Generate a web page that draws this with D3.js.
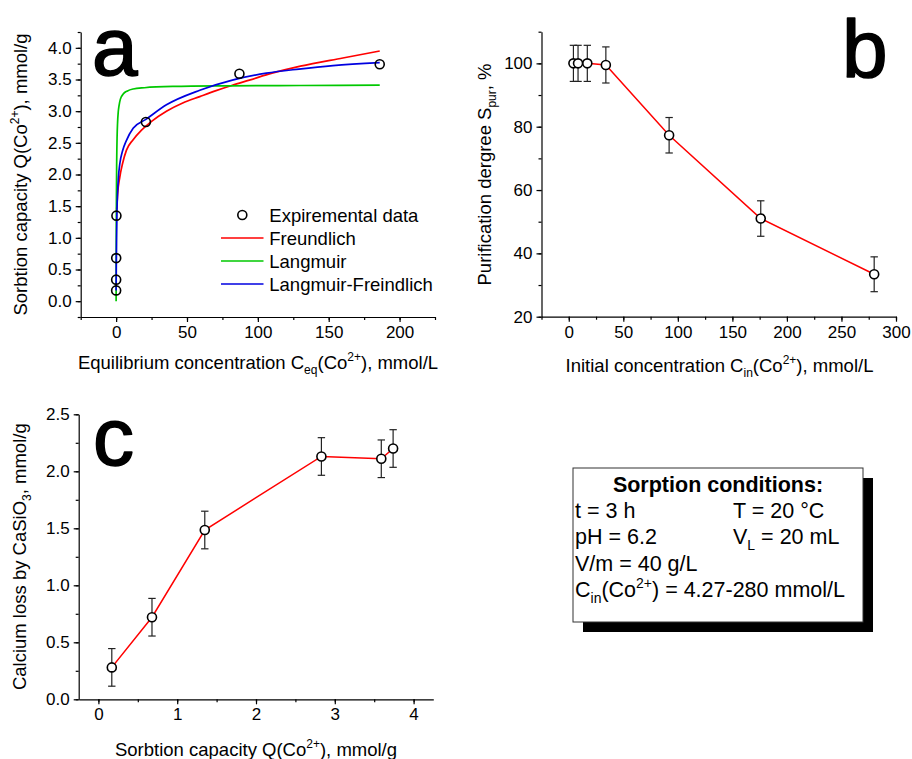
<!DOCTYPE html>
<html>
<head>
<meta charset="utf-8">
<script src="https://cdn.jsdelivr.net/npm/d3@7"></script>
<style>
  body { margin: 0; background: #fff; }
  svg text { font-family: "Liberation Sans", Arial, sans-serif; fill: #000; }
</style>
</head>
<body>
<svg id="fig" width="912" height="759"></svg>
<script>
// ---- panel a: isotherm ----
const expC = [0.01, 0.02, 0.05, 0.2, 21, 87, 186];
const expQ = [0.17, 0.34, 0.68, 1.35, 2.83, 3.59, 3.74];

const frC = [0.4, 1, 2.6, 4.5, 7.3, 12, 17.9, 25, 35.5, 47, 59, 70, 82, 94, 110, 130, 160, 186];
const frQ = [1.45, 1.68, 1.96, 2.17, 2.385, 2.55, 2.70, 2.84, 3.0, 3.13, 3.23, 3.32, 3.41, 3.49, 3.60, 3.71, 3.84, 3.95];

const lgC = [0, 0.05, 0.1, 0.2, 0.4, 0.7, 1, 1.5, 2, 3, 5, 8, 12, 20, 40, 80, 130, 186];
const lgQ = [0, 0.65, 1.09, 1.65, 2.21, 2.61, 2.81, 2.99, 3.08, 3.19, 3.27, 3.32, 3.35, 3.37, 3.39, 3.40, 3.405, 3.41];

const lfC = [0, 0.1, 0.3, 0.6, 1, 1.6, 2.6, 4.5, 7.3, 12, 21, 35.5, 59, 82, 106, 129, 153, 186];
const lfQ = [0.17, 0.55, 1.0, 1.44, 1.7, 1.95, 2.17, 2.37, 2.54, 2.73, 2.87, 3.10, 3.33, 3.49, 3.60, 3.665, 3.72, 3.765];

const legendLabels = ['Expiremental data', 'Freundlich', 'Langmuir', 'Langmuir-Freindlich'];
const curveColors = ['#ff0000', '#00c800', '#0000e0'];

// ---- panel b: purification degree ----
const bC = [4.27, 8.5, 17, 34, 92, 176, 280];
const bS = [100, 100, 100, 99.5, 77.3, 51, 33.4];
const bErr = [5.7, 5.7, 5.7, 5.7, 5.6, 5.6, 5.5];

// ---- panel c: calcium loss ----
const cQ = [0.17, 0.68, 1.35, 2.83, 3.59, 3.74];
const cLoss = [0.28, 0.72, 1.485, 2.13, 2.11, 2.20];
const cErr = [0.165, 0.165, 0.165, 0.165, 0.165, 0.165];

// ---- conditions box ----
const condRows = [
  [[['t = 3 h', '']], [['T = 20 °C', '']]],
  [[['pH = 6.2', '']], [['V', ''], ['L', 'sub'], [' = 20 mL', '']]],
  [[['V/m = 40 g/L', '']], null],
  [[['C', ''], ['in', 'sub'], ['(Co', ''], ['2+', 'sup'], [') = 4.27-280 mmol/L', '']], null]
];

const svg = d3.select('#fig');
const TICK = 17, TITLE = 18.5;

// text with sub/superscripts built from tspans
function richText(sel, parts, size) {
  let cur = 0;
  parts.forEach(([s, m]) => {
    const off = m === 'sub' ? 0.28 * size : m === 'sup' ? -0.42 * size : 0;
    const ts = sel.append('tspan').text(s).attr('dy', off - cur);
    if (m) ts.attr('font-size', size * 0.65);
    cur = off;
  });
  return sel;
}

function axes(x, y, xMaj, xMin, yMaj, yMin, xFmt, yFmt) {
  const y0 = y.range()[0], x0 = x.range()[0];
  const style = g => {
    g.selectAll('path,line').attr('stroke', '#000').attr('stroke-width', 1.2);
    g.selectAll('text').attr('font-size', TICK).attr('fill', '#000');
  };
  svg.append('g').attr('transform', `translate(0,${y0})`)
    .call(d3.axisBottom(x).tickValues(xMin).tickSize(3).tickSizeOuter(0).tickFormat('')).call(style);
  svg.append('g').attr('transform', `translate(0,${y0})`)
    .call(d3.axisBottom(x).tickValues(xMaj).tickSize(5).tickSizeOuter(0).tickPadding(4).tickFormat(xFmt)).call(style)
    .select('.domain').remove();
  svg.append('g').attr('transform', `translate(${x0},0)`)
    .call(d3.axisLeft(y).tickValues(yMin).tickSize(3).tickSizeOuter(0).tickFormat('')).call(style);
  svg.append('g').attr('transform', `translate(${x0},0)`)
    .call(d3.axisLeft(y).tickValues(yMaj).tickSize(5).tickSizeOuter(0).tickPadding(4).tickFormat(yFmt)).call(style)
    .select('.domain').remove();
}

function xTitle(cx, base, parts) {
  richText(svg.append('text').attr('x', cx).attr('y', base).attr('text-anchor', 'middle')
    .attr('font-size', TITLE), parts, TITLE);
}
function yTitle(bx, cy, parts) {
  richText(svg.append('text').attr('transform', `translate(${bx},${cy}) rotate(-90)`)
    .attr('text-anchor', 'middle').attr('font-size', TITLE), parts, TITLE);
}
// big panel letters, slightly thickened with a stroke
function letter(x, y, s) {
  svg.append('text').attr('x', x).attr('y', y).attr('font-size', 82)
    .attr('stroke', '#000').attr('stroke-width', 1.6).attr('stroke-linejoin', 'round').text(s);
}

function errorBars(x, y, xs, ys, es) {
  const g = svg.append('g').attr('stroke', '#222').attr('stroke-width', 1.2);
  xs.forEach((v, i) => {
    const px = x(v);
    g.append('line').attr('x1', px).attr('x2', px).attr('y1', y(ys[i] - es[i])).attr('y2', y(ys[i] + es[i]));
    [ys[i] - es[i], ys[i] + es[i]].forEach(e => g.append('line')
      .attr('x1', px - 3.7).attr('x2', px + 3.7).attr('y1', y(e)).attr('y2', y(e)));
  });
}

function dots(x, y, xs, ys, fill) {
  svg.append('g').selectAll('circle').data(xs).join('circle')
    .attr('cx', d => x(d)).attr('cy', (d, i) => y(ys[i])).attr('r', 4.5)
    .attr('fill', fill).attr('stroke', '#000').attr('stroke-width', 1.6);
}

// ================= panel a =================
const xa = d3.scaleLinear([-25, 225], [80.7, 435]);
const ya = d3.scaleLinear([-0.25, 4.25], [317, 32]);
axes(xa, ya, d3.range(0, 201, 50), d3.range(-25, 226, 25),
  d3.range(0, 4.01, 0.5), d3.range(-0.25, 4.26, 0.25), d3.format('d'), d3.format('.1f'));

[[frC, frQ], [lgC, lgQ], [lfC, lfQ]].forEach(([cs, qs], k) => {
  const line = d3.line().x(d => xa(d)).y((d, i) => ya(qs[i])).curve(d3.curveMonotoneX);
  svg.append('path').attr('d', line(cs)).attr('fill', 'none')
    .attr('stroke', curveColors[k]).attr('stroke-width', 1.7);
});
dots(xa, ya, expC, expQ, 'none');

// legend
const leg = svg.append('g');
legendLabels.forEach((lab, i) => {
  const cy = 215 + i * 23;
  if (i === 0) {
    leg.append('circle').attr('cx', 242.3).attr('cy', cy).attr('r', 4.5)
      .attr('fill', 'none').attr('stroke', '#000').attr('stroke-width', 1.6);
  } else {
    leg.append('line').attr('x1', 221).attr('x2', 263.5).attr('y1', cy).attr('y2', cy)
      .attr('stroke', curveColors[i - 1]).attr('stroke-width', 1.7);
  }
  leg.append('text').attr('x', 269.3).attr('y', cy + 6.7).attr('font-size', TITLE).text(lab);
});

xTitle(258, 369, [['Equilibrium concentration C', ''], ['eq', 'sub'], ['(Co', ''], ['2+', 'sup'], ['), mmol/L', '']]);
yTitle(27, 174.5, [['Sorbtion capacity Q(Co', ''], ['2+', 'sup'], ['), mmol/g', '']]);
letter(92, 75, 'a');

// ================= panel b =================
const xb = d3.scaleLinear([-25, 300], [541.5, 896]);
const yb = d3.scaleLinear([20, 110], [316.7, 31.7]);
axes(xb, yb, d3.range(0, 301, 50), d3.range(-25, 301, 25),
  d3.range(20, 101, 20), d3.range(20, 111, 10), d3.format('d'), d3.format('d'));

svg.append('path')
  .attr('d', d3.line().x(d => xb(d)).y((d, i) => yb(bS[i]))(bC))
  .attr('fill', 'none').attr('stroke', '#ff0000').attr('stroke-width', 1.5);
errorBars(xb, yb, bC, bS, bErr);
dots(xb, yb, bC, bS, '#fff');

xTitle(719.5, 372, [['Initial concentration C', ''], ['in', 'sub'], ['(Co', ''], ['2+', 'sup'], ['), mmol/L', '']]);
yTitle(490.5, 174.5, [['Purification dergree S', ''], ['pur', 'sub'], [', %', '']]);
letter(842, 76.7, 'b');

// ================= panel c =================
const xc = d3.scaleLinear([-0.25, 4.25], [78.7, 433.3]);
const yc = d3.scaleLinear([0, 2.5], [699.3, 414.3]);
axes(xc, yc, d3.range(0, 4.01, 1), d3.range(0, 4.01, 0.5),
  d3.range(0, 2.51, 0.5), d3.range(0, 2.51, 0.25), d3.format('d'), d3.format('.1f'));

svg.append('path')
  .attr('d', d3.line().x(d => xc(d)).y((d, i) => yc(cLoss[i]))(cQ))
  .attr('fill', 'none').attr('stroke', '#ff0000').attr('stroke-width', 1.5);
errorBars(xc, yc, cQ, cLoss, cErr);
dots(xc, yc, cQ, cLoss, '#fff');

xTitle(256, 756, [['Sorbtion capacity Q(Co', ''], ['2+', 'sup'], ['), mmol/g', '']]);
yTitle(26, 556.7, [['Calcium loss by CaSiO', ''], ['3', 'sub'], [', mmol/g', '']]);
letter(93, 465, 'c');

// ================= conditions box =================
const box = svg.append('g');
box.append('rect').attr('x', 583).attr('y', 478).attr('width', 290).attr('height', 154).attr('fill', '#000');
box.append('rect').attr('x', 573).attr('y', 468).attr('width', 290).attr('height', 154)
  .attr('fill', '#fff').attr('stroke', '#333').attr('stroke-width', 1);
box.append('text').attr('x', 718).attr('y', 491.5).attr('text-anchor', 'middle')
  .attr('font-size', 21.5).attr('font-weight', 'bold').text('Sorption conditions:');
condRows.forEach((row, i) => {
  const base = 518 + i * 26.3;
  richText(box.append('text').attr('x', 575).attr('y', base).attr('font-size', 21.5), row[0], 21.5);
  if (row[1]) richText(box.append('text').attr('x', 733).attr('y', base).attr('font-size', 21.5), row[1], 21.5);
});
</script>
</body>
</html>
